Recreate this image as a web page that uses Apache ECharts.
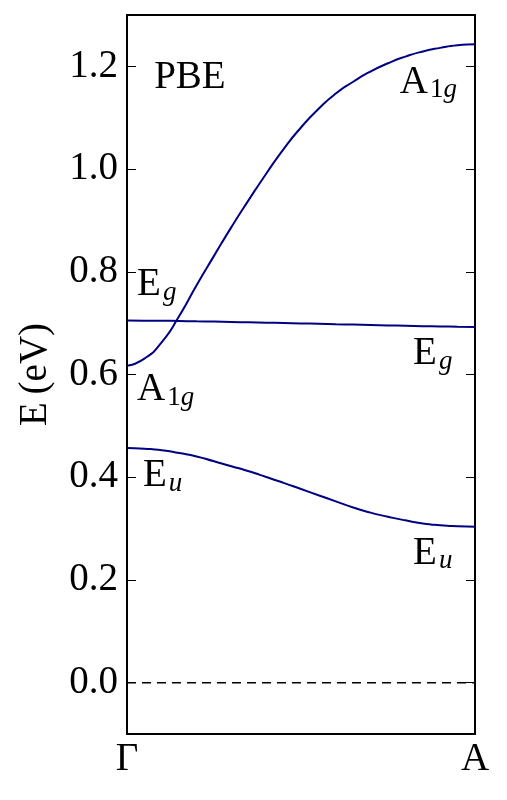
<!DOCTYPE html>
<html>
<head>
<meta charset="utf-8">
<script src="https://cdn.jsdelivr.net/npm/echarts@6/dist/echarts.min.js"></script>
<style>
html, body { margin: 0; padding: 0; background: #fff; }
#main { width: 507px; height: 800px; }
</style>
</head>
<body>
<div id="main"></div>
<script>
// path coordinate along Γ -> A (0..1)
var kPath = [0, 0.05, 0.10, 0.15, 0.20, 0.25, 0.30, 0.35, 0.40, 0.45, 0.50,
             0.55, 0.60, 0.65, 0.70, 0.75, 0.80, 0.85, 0.90, 0.95, 1.00];
// phonon energies (eV)
var a1g = [0.617, 0.631, 0.663, 0.714, 0.774, 0.831, 0.887, 0.940, 0.991, 1.039, 1.081,
           1.117, 1.147, 1.170, 1.190, 1.206, 1.219, 1.229, 1.236, 1.241, 1.243];
var eg  = [0.7050, 0.7049, 0.7046, 0.7042, 0.7036, 0.7030, 0.7023, 0.7016, 0.7009, 0.7002, 0.6995,
           0.6988, 0.6980, 0.6972, 0.6964, 0.6956, 0.6948, 0.6941, 0.6935, 0.6930, 0.6926];
var eu  = [0.457, 0.4555, 0.4525, 0.447, 0.4405, 0.431, 0.4215, 0.4115, 0.4005, 0.389, 0.377,
           0.365, 0.353, 0.341, 0.331, 0.323, 0.316, 0.310, 0.3065, 0.3045, 0.3035];
var fermiK = [0, 1];
var fermiE = [0, 0];

var yTicks = [0, 0.2, 0.4, 0.6, 0.8, 1.0, 1.2];
var xTicks = [0, 1];
var xTickLabels = ['Γ', 'A'];

// mode labels: main letter, subscript digits, italic subscript, anchor [k, E]
var modeLabels = [
    { main: 'PBE', num: '', ital: '', at: [0.078, 1.178] },
    { main: 'A', num: '1', ital: 'g', at: [0.784, 1.169] },
    { main: 'E', num: '', ital: 'g', at: [0.029, 0.774] },
    { main: 'A', num: '1', ital: 'g', at: [0.029, 0.570] },
    { main: 'E', num: '', ital: 'u', at: [0.046, 0.402] },
    { main: 'E', num: '', ital: 'g', at: [0.822, 0.640] },
    { main: 'E', num: '', ital: 'u', at: [0.822, 0.251] }
];

var FONT = '"Liberation Serif", "DejaVu Serif", serif';
var lineColor = '#000080';

function pairs(xs, ys) {
    return xs.map(function (x, i) { return [x, ys[i]]; });
}

var myChart = echarts.init(document.getElementById('main'));

var option = {
    animation: false,
    backgroundColor: '#fff',
    grid: {
        left: 127, right: 32, top: 15, bottom: 66,
        show: true, borderColor: '#000', borderWidth: 2, backgroundColor: 'transparent'
    },
    xAxis: {
        type: 'value', min: 0, max: 1,
        axisLine: { show: false },
        splitLine: { show: false },
        axisTick: { show: false },
        axisLabel: {
            customValues: xTicks,
            formatter: function (v) { return xTickLabels[xTicks.indexOf(v)]; },
            fontFamily: FONT, fontSize: 39, color: '#000', margin: 6
        }
    },
    yAxis: [{
        type: 'value', min: -0.1, max: 1.3,
        name: 'E\u2009(eV)', nameLocation: 'middle', nameGap: 72, nameRotate: 90,
        nameTextStyle: { fontFamily: FONT, fontSize: 39, color: '#000' },
        axisLine: { show: false },
        splitLine: { show: false },
        axisTick: { customValues: yTicks, inside: true, length: 9, lineStyle: { color: '#000', width: 1 } },
        axisLabel: {
            customValues: yTicks,
            formatter: function (v) { return v.toFixed(1); },
            fontFamily: FONT, fontSize: 39, color: '#000', margin: 9
        }
    }, {
        type: 'value', min: -0.1, max: 1.3, position: 'right',
        axisLine: { show: false },
        splitLine: { show: false },
        axisTick: { customValues: yTicks, inside: true, length: 9, lineStyle: { color: '#000', width: 1 } },
        axisLabel: { show: false }
    }],
    series: [{
        name: 'A1g', type: 'line', data: pairs(kPath, a1g),
        showSymbol: false, smooth: 0.6,
        lineStyle: { color: lineColor, width: 2 }
    }, {
        name: 'Eg', type: 'line', data: pairs(kPath, eg),
        showSymbol: false, smooth: 0.6,
        lineStyle: { color: lineColor, width: 2 }
    }, {
        name: 'Eu', type: 'line', data: pairs(kPath, eu),
        showSymbol: false, smooth: 0.6,
        lineStyle: { color: lineColor, width: 2 }
    }, {
        name: 'EF', type: 'line', data: pairs(fermiK, fermiE),
        showSymbol: false,
        lineStyle: { color: '#000', width: 1.5, type: [9, 6] }
    }]
};

myChart.setOption(option);

// place the mode labels at data positions
var ctx = document.createElement('canvas').getContext('2d');
ctx.font = '39px ' + FONT;
var graphics = [];
modeLabels.forEach(function (lb) {
    var p = myChart.convertToPixel({ xAxisIndex: 0, yAxisIndex: 0 }, lb.at);
    graphics.push({
        type: 'text', x: p[0], y: p[1],
        style: { text: lb.main, font: '39px ' + FONT, fill: '#000', verticalAlign: 'middle' }
    });
    if (lb.num || lb.ital) {
        var w = ctx.measureText(lb.main).width;
        graphics.push({
            type: 'text', x: p[0] + w + 2, y: p[1] + 7.5,
            style: {
                text: (lb.num ? '{n|' + lb.num + '}' : '') + '{i|' + lb.ital + '}',
                fill: '#000', verticalAlign: 'middle',
                rich: {
                    n: { fontFamily: FONT, fontSize: 27, fill: '#000' },
                    i: { fontFamily: FONT, fontSize: 27, fontStyle: 'italic', fill: '#000' }
                }
            }
        });
    }
});
myChart.setOption({ graphic: graphics });
</script>
</body>
</html>
